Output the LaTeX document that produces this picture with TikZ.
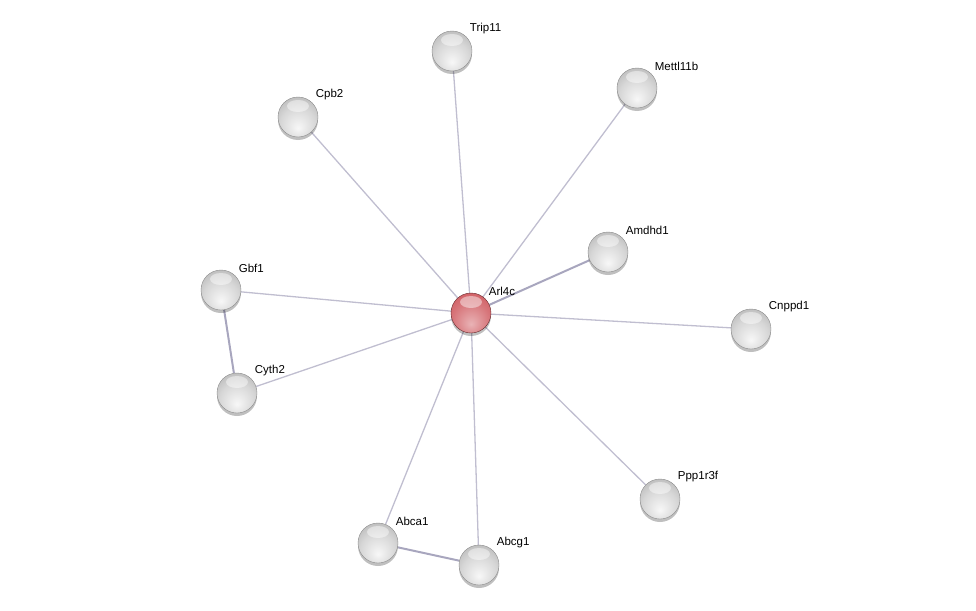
\documentclass[tikz,border=0pt]{standalone}
\usepackage{fontspec}
\setmainfont{Liberation Sans}
\usepackage{tikz}
\usetikzlibrary{shadows,backgrounds}

\definecolor{edgegrey}{RGB}{192,190,208}
\definecolor{edgedark}{RGB}{168,166,190}
\definecolor{redmid}{RGB}{206,86,92}
\pgfdeclareradialshading{greyball}{\pgfpoint{0bp}{-14bp}}{%
  color(0bp)=(black!3); color(22bp)=(black!16); color(38bp)=(black!30);
  color(48bp)=(black!45); color(56bp)=(black!58); color(66bp)=(black!62)}
\pgfdeclareradialshading{redball}{\pgfpoint{0bp}{-14bp}}{%
  color(0bp)=(redmid!45!white); color(22bp)=(redmid!80!white); color(38bp)=(redmid);
  color(48bp)=(redmid!85!black); color(56bp)=(redmid!60!black); color(66bp)=(redmid!55!black)}

\begin{document}
\begin{tikzpicture}[
    x=1pt, y=-1pt,
    font=\fontsize{11.5}{12}\selectfont,
    protein/.style={
        circle,
        minimum size=40pt,
        inner sep=0pt,
        draw=black!45, line width=0.4pt,
        shading=greyball,
        drop shadow={shadow xshift=0pt, shadow yshift=-3pt, opacity=0.25, fill=black},
        path picture={\fill[white, opacity=0.45]
            ([yshift=-9pt]path picture bounding box.north) ellipse (11pt and 6pt);},
        label={[lbl]north east:#1}
    },
    query/.style={protein=#1, shading=redball, draw=redmid!50!black},
    lbl/.style={inner sep=1pt, label distance=2pt, xshift=1pt, text=black},
    link/.style={draw=edgegrey, line width=1.3pt},
    strong/.style={draw=edgedark, line width=2pt}
]
\useasboundingbox (0,0) rectangle (976,610);

% proteins
\node[protein=Trip11]   (trip)   at (452,51)  {};
\node[protein=Mettl11b] (mettl)  at (637,88)  {};
\node[protein=Cpb2]     (cpb)    at (298,117) {};
\node[protein=Amdhd1]   (amdhd)  at (608,252) {};
\node[protein=Gbf1]     (gbf)    at (221,290) {};
\node[protein=Cnppd1]   (cnppd)  at (751,329) {};
\node[protein=Cyth2]    (cyth)   at (237,393) {};
\node[protein=Ppp1r3f]  (ppp)    at (660,499) {};
\node[protein=Abca1]    (abca)   at (378,543) {};
\node[protein=Abcg1]    (abcg)   at (479,565) {};
\node[query=Arl4c]      (arl)    at (471,313) {};

% links
\begin{scope}[on background layer]
\draw[link] (arl) -- (trip);
\draw[link] (arl) -- (mettl);
\draw[link] (arl) -- (cpb);
\draw[strong] (arl) -- (amdhd);
\draw[link] (arl) -- (gbf);
\draw[link] (arl) -- (cnppd);
\draw[link] (arl) -- (cyth);
\draw[link] (arl) -- (ppp);
\draw[link] (arl) -- (abca);
\draw[link] (arl) -- (abcg);
\draw[strong] (gbf) -- (cyth);
\draw[strong] (abca) -- (abcg);
\end{scope}
\end{tikzpicture}
\end{document}
